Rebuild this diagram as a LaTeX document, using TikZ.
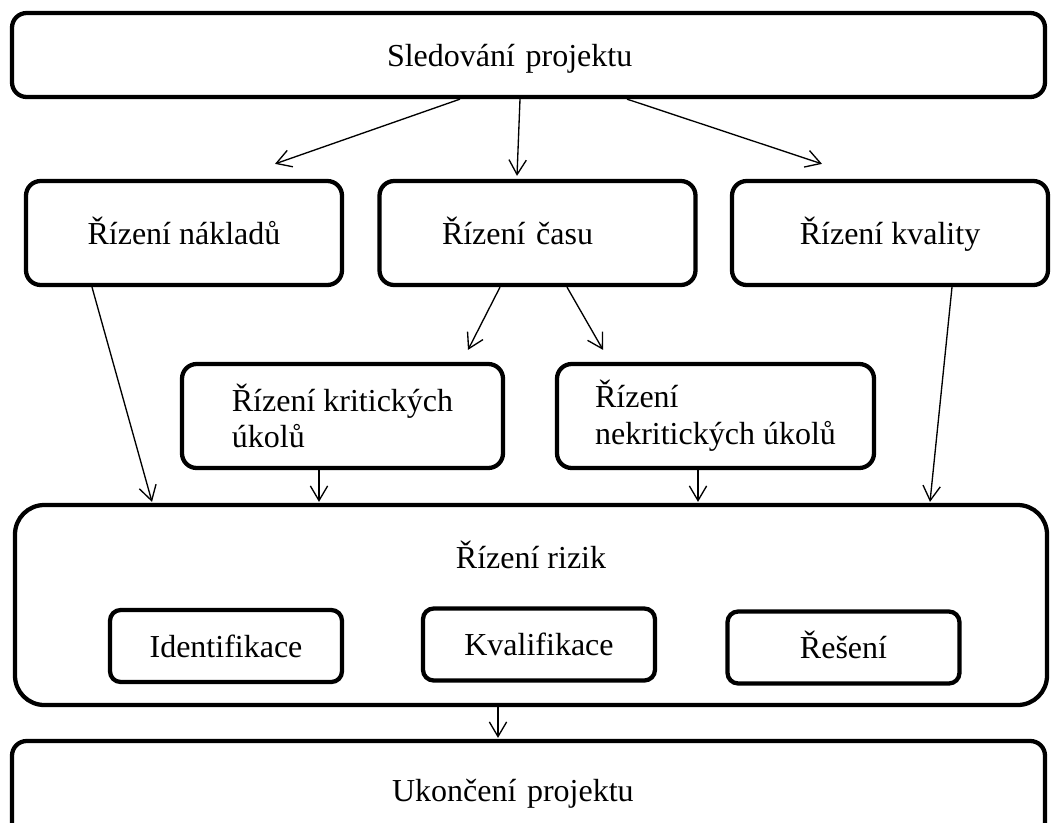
\documentclass[tikz,border=0pt]{standalone}
\usepackage{fontspec}
\setmainfont{Liberation Serif}
\usetikzlibrary{arrows.meta,positioning}
\tikzset{
  >={Straight Barb[length=11pt,width=13pt]},
  box/.style={rectangle, rounded corners=11pt, draw=black, line width=3.2pt,
    inner sep=0pt, minimum width=237pt, minimum height=78pt,
    font=\fontsize{24}{27.6}\selectfont},
  single/.style={box, text height=18pt, text depth=1.5pt},
  wide/.style={single, align=left, minimum width=774.75pt},
  part/.style={single, rounded corners=8pt, minimum width=174pt, minimum height=54pt},
  flow/.style={draw, ->, line width=1pt}
}

\begin{document}
\begin{tikzpicture}[x=0.75pt, y=-0.75pt]
\clip (0,0) rectangle (1054,822);

\node[wide, minimum height=63pt, text width=212.25pt, inner xsep=281.25pt] (sledovani) at (528.5,55) {Sledování projektu};

\node[single] (naklady) at (184,233) {Řízení nákladů};
\node[single, align=left, text width=143.25pt, inner xsep=46.5pt] (cas) at (537.5,233) {Řízení času};
\node[single] (kvalita) at (890,233) {Řízení kvality};

\node[box, align=left, minimum width=240.75pt] (kriticke) at (342.5,416) {Řízení kritických\\úkolů};
\node[box, align=left, minimum width=237.75pt] (nekriticke) at (715.5,416) {Řízení\\nekritických úkolů};

\node[box, rounded corners=22pt, minimum width=774pt, minimum height=150pt,
  text height=47.25pt, text depth=102.75pt] (rizika) at (531,605) {Řízení rizik};
\node[part] (identifikace) at (226,646) {Identifikace};
\node[part] (kvalifikace) at (539,644.5) {Kvalifikace};
\node[part] (reseni) at (843.5,647.5) {Řešení};

\node[wide, minimum height=73.5pt, text width=204.75pt, inner xsep=285pt] (ukonceni) at (528.5,790) {Ukončení projektu};

\draw[flow] ([shift={(-68.5,0)}]sledovani.south) -- ([shift={(91,-15)}]naklady.north);
\draw[flow] ([shift={(-8.5,0)}]sledovani.south)  -- ([shift={(-20.5,-3)}]cas.north);
\draw[flow] ([shift={(98.5,0)}]sledovani.south)  -- ([shift={(-68,-15)}]kvalita.north);
\draw[flow] ([shift={(-37.5,0)}]cas.south)       -- ([shift={(125.5,-12)}]kriticke.north);
\draw[flow] ([shift={(29.5,0)}]cas.south)        -- ([shift={(-112.5,-12)}]nekriticke.north);
\draw[flow] ([shift={(-92,0)}]naklady.south)     -- ([shift={(-379,-1)}]rizika.north);
\draw[flow] ([shift={(-23.5,0)}]kriticke.south)  -- ([shift={(-212,-1)}]rizika.north);
\draw[flow] ([shift={(-17.5,0)}]nekriticke.south) -- ([shift={(167,-1)}]rizika.north);
\draw[flow] ([shift={(62,0)}]kvalita.south)      -- ([shift={(399,-1)}]rizika.north);
\draw[flow] ([shift={(-33,0)}]rizika.south)      -- ([shift={(-30.5,-1)}]ukonceni.north);

\end{tikzpicture}
\end{document}
